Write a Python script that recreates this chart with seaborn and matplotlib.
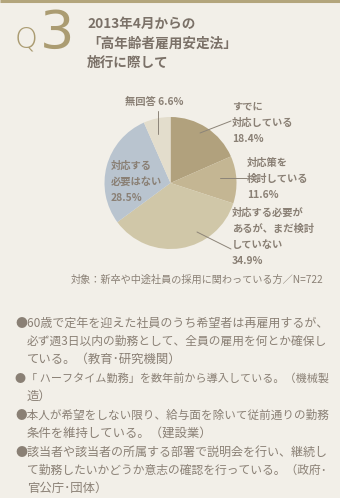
import matplotlib
matplotlib.use("Agg")
import matplotlib.pyplot as plt
import seaborn as sns

sns.set_theme(style="white")
plt.rcParams['font.family'] = ['Noto Sans CJK JP', 'DejaVu Sans']

# ---- data ----
categories = ["すでに\n対応している", "対応策を\n検討している",
              "対応する必要が\nあるが、まだ検討\nしていない",
              "対応する\n必要はない", "無回答"]
values = [18.4, 11.6, 34.9, 28.5, 6.6]
colors = ["#b1a17d", "#c4b693", "#d0c7a8", "#b9c4cf", "#e3ddcc"]
title_lines = ["2013年4月からの", "「高年齢者雇用安定法」", "施行に際して"]
note = "対象：新卒や中途社員の採用に関わっている方／N=722"
bullets = [
    ["●60歳で定年を迎えた社員のうち希望者は再雇用するが、",
     "必ず週3日以内の勤務として、全員の雇用を何とか確保し",
     "ている。（教育･研究機関）"],
    ["●「 ハーフタイム勤務」を数年前から導入している。（機械製",
     "造）"],
    ["●本人が希望をしない限り、給与面を除いて従前通りの勤務",
     "条件を維持している。（建設業）"],
    ["●該当者や該当者の所属する部署で説明会を行い、継続し",
     "て勤務したいかどうか意志の確認を行っている。（政府･",
     "官公庁･団体）"],
]

W, H = 340, 498
BG = "#f2efe8"
TXT = "#8a8075"
GOLD = "#ab9c72"

fig = plt.figure(figsize=(W / 100, H / 100), dpi=100, facecolor=BG)
ax = fig.add_axes([0, 0, 1, 1])
ax.set_facecolor(BG)

def Y(y):
    return H - y

# pie
cx, cy, r = 170.5, 183, 66
ax.pie(values, colors=colors, startangle=90, counterclock=False,
       center=(cx, Y(cy)), radius=r, wedgeprops=dict(linewidth=0))

ax.set_xlim(0, W)
ax.set_ylim(0, H)
ax.set_aspect('equal')
ax.axis('off')

# top rule
ax.plot([0, W], [Y(1), Y(1)], color="#b3a57c", lw=2.2, solid_capstyle='butt')

# Q3
ax.text(26, Y(39), "Q", color=GOLD, fontsize=21, ha='center', va='center',
        family=['DejaVu Sans'], fontweight='light')
ax.text(57, Y(34), "3", color=GOLD, fontsize=39, ha='center', va='center',
        family=['DejaVu Sans'], fontweight='medium')

# title
for i, t in enumerate(title_lines):
    ax.text(87, Y(24 + i * 19.5), t, color="#7b7168", fontsize=9.8,
            fontweight='bold', ha='left', va='center')

# pie labels
label_pos = [(232, 107), (247, 163), (232, 213), (111, 166), (125, 102)]
line_h = 16
for cat, v, (lx, ly) in zip(categories, values, label_pos):
    if "\n" in cat:
        lines = cat.split("\n") + [f"{v}%"]
    else:
        lines = [f"{cat} {v}%"]
    for j, ln in enumerate(lines):
        ax.text(lx, Y(ly + j * line_h), ln, color=TXT, fontsize=7.4,
                fontweight='bold', ha='left', va='center')

# leader lines
leaders = [((200, 133), (231, 121)), ((220, 178), (247, 178)),
           ((197, 232), (231, 249)), ((158, 134), (158, 111))]
for (x0, y0), (x1, y1) in leaders:
    ax.plot([x0, x1], [Y(y0), Y(y1)], color="#8c8478", lw=0.7)

# note
ax.text(323, Y(280), note, color=TXT, fontsize=7.3, ha='right', va='center')

# bullets (shrink a line slightly only if it would run past the right margin)
fig.canvas.draw()
renderer = fig.canvas.get_renderer()
right_edge = 328
y = 323
for b in bullets:
    for k, ln in enumerate(b):
        x0 = 15 if k == 0 else 27
        t = ax.text(x0, Y(y), ln, color=TXT, fontsize=8.9,
                    ha='left', va='center')
        ext = t.get_window_extent(renderer)
        if ext.x1 > right_edge:
            t.set_fontsize(8.9 * (right_edge - x0) / (ext.x1 - x0))
        y += 18
    y += 1

fig.savefig("out.png", dpi=100, facecolor=BG)
